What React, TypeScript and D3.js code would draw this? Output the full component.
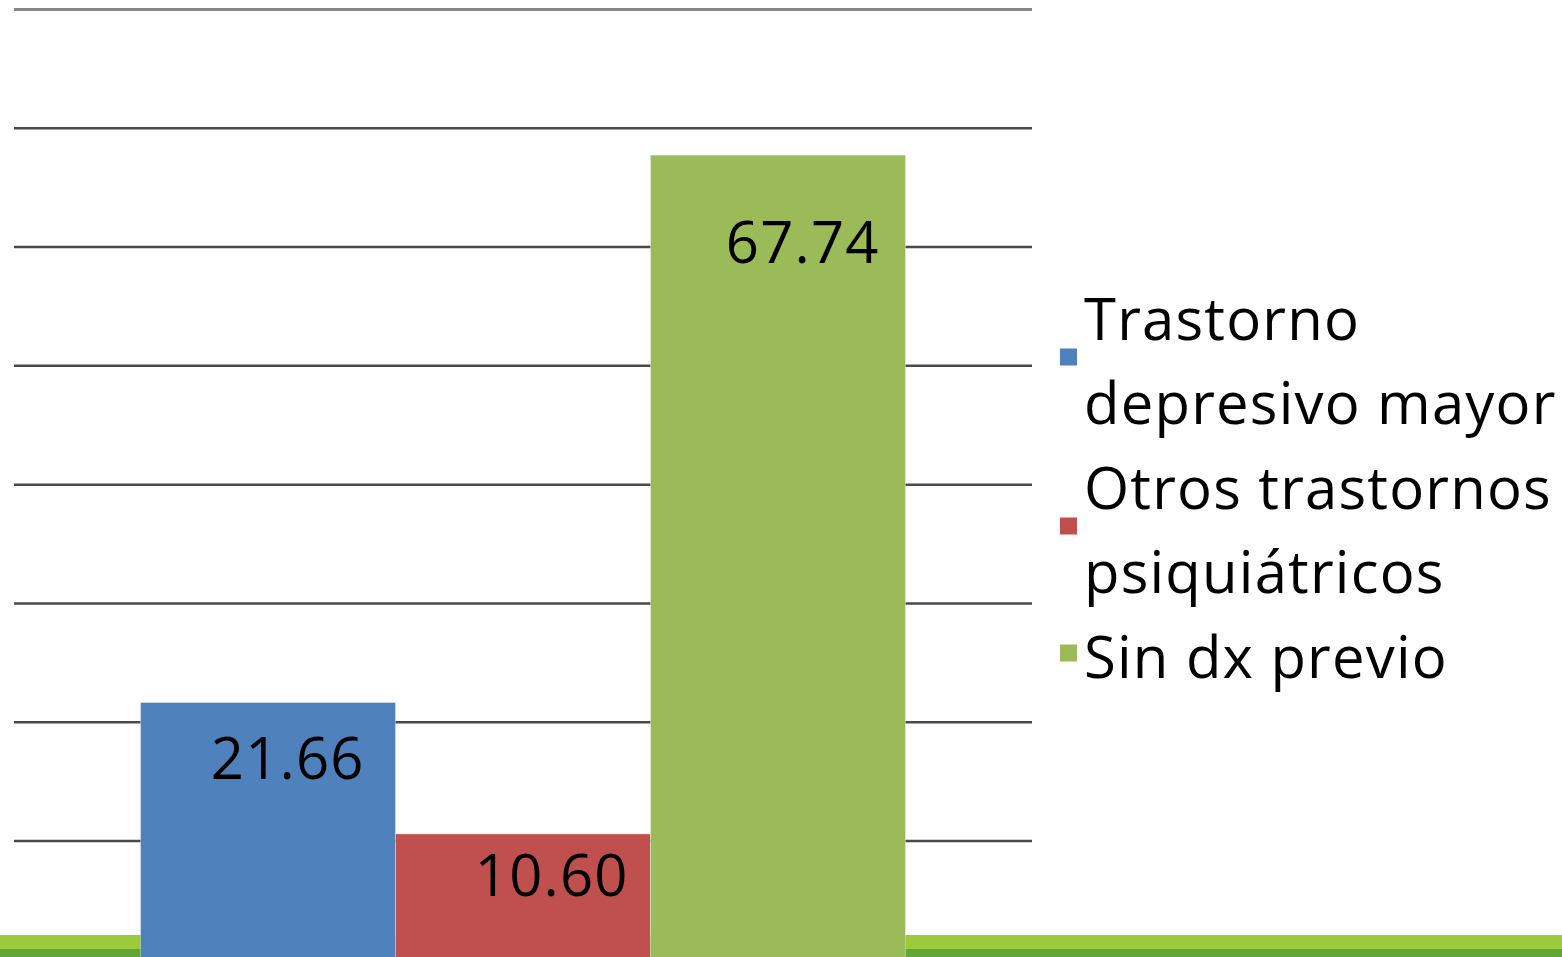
import React from "react";
import * as d3 from "d3";

const categories = ["Diagnóstico"];
const seriesNames = ["Trastorno depresivo mayor", "Otros trastornos psiquiátricos", "Sin dx previo"];
const seriesValues = [21.66, 10.6, 67.74];
const seriesColors = ["#4F81BD", "#C0504D", "#9BBB59"];
const legendLines = [["Trastorno", "depresivo mayor"], ["Otros trastornos", "psiquiátricos"], ["Sin dx previo"]];
const gridTicks = [10, 20, 30, 40, 50, 60, 70, 80];
const labelDy = [76, 62, 108];
const labelPadRight = [32, 23, 27];

const W = 1562;
const H = 957;
const FONT = "'Open Sans', 'Noto Sans', sans-serif";
const FS = 58;
const LS = 1.2;

export default function App() {
  const y = d3.scaleLinear().domain([0, 80]).range([959.8, 9.5]);
  const x0 = d3.scaleBand<string>().domain(categories).range([14, 1032]).paddingOuter(0.1654).paddingInner(0);
  const x1 = d3.scaleBand<string>().domain(seriesNames).range([0, x0.bandwidth()]).padding(0);

  const legendX = 1084;
  const lineH = 84;
  let baseline = 340;
  const legendItems = legendLines.map((lines, i) => {
    const first = baseline;
    const last = baseline + (lines.length - 1) * lineH;
    baseline = last + lineH + 1;
    return { lines, first, last, i };
  });

  return (
    <svg width={W} height={H} style={{ position: "absolute", left: 0, top: 0, display: "block", background: "#fff" }}>
      <rect x={0} y={0} width={W} height={H} fill="#fff" />
      {gridTicks.map((t) => (
        <line key={t} x1={14} x2={1032} y1={y(t)} y2={y(t)} stroke={t === 80 ? "#858585" : "#4a4a4a"} strokeWidth={t === 80 ? 3 : 2.5} />
      ))}
      <rect x={0} y={935} width={W} height={14} fill="#9BCB3A" />
      <rect x={0} y={949} width={W} height={8} fill="#62A539" />
      {categories.map((c) =>
        seriesNames.map((s, i) => {
          const bx = (x0(c) ?? 0) + (x1(s) ?? 0);
          const by = y(seriesValues[i]);
          return (
            <g key={s}>
              <rect x={bx} y={by} width={x1.bandwidth()} height={y(0) - by} fill={seriesColors[i]} stroke="rgba(255,255,255,0.35)" strokeWidth={1} />
              <text
                x={bx + x1.bandwidth() - labelPadRight[i] + LS}
                y={by + labelDy[i]}
                textAnchor="end"
                fontFamily={FONT}
                fontSize={FS}
                letterSpacing={LS}
                fill="#000"
              >
                {seriesValues[i].toFixed(2)}
              </text>
            </g>
          );
        })
      )}
      {legendItems.map(({ lines, first, last, i }) => (
        <g key={i}>
          <rect x={1060} y={(first + last) / 2 - 25 - 8.5} width={17} height={17} fill={seriesColors[i]} />
          {lines.map((l, j) => (
            <text key={j} x={legendX} y={first + j * lineH} fontFamily={FONT} fontSize={FS} letterSpacing={LS} fill="#000">
              {l}
            </text>
          ))}
        </g>
      ))}
    </svg>
  );
}
